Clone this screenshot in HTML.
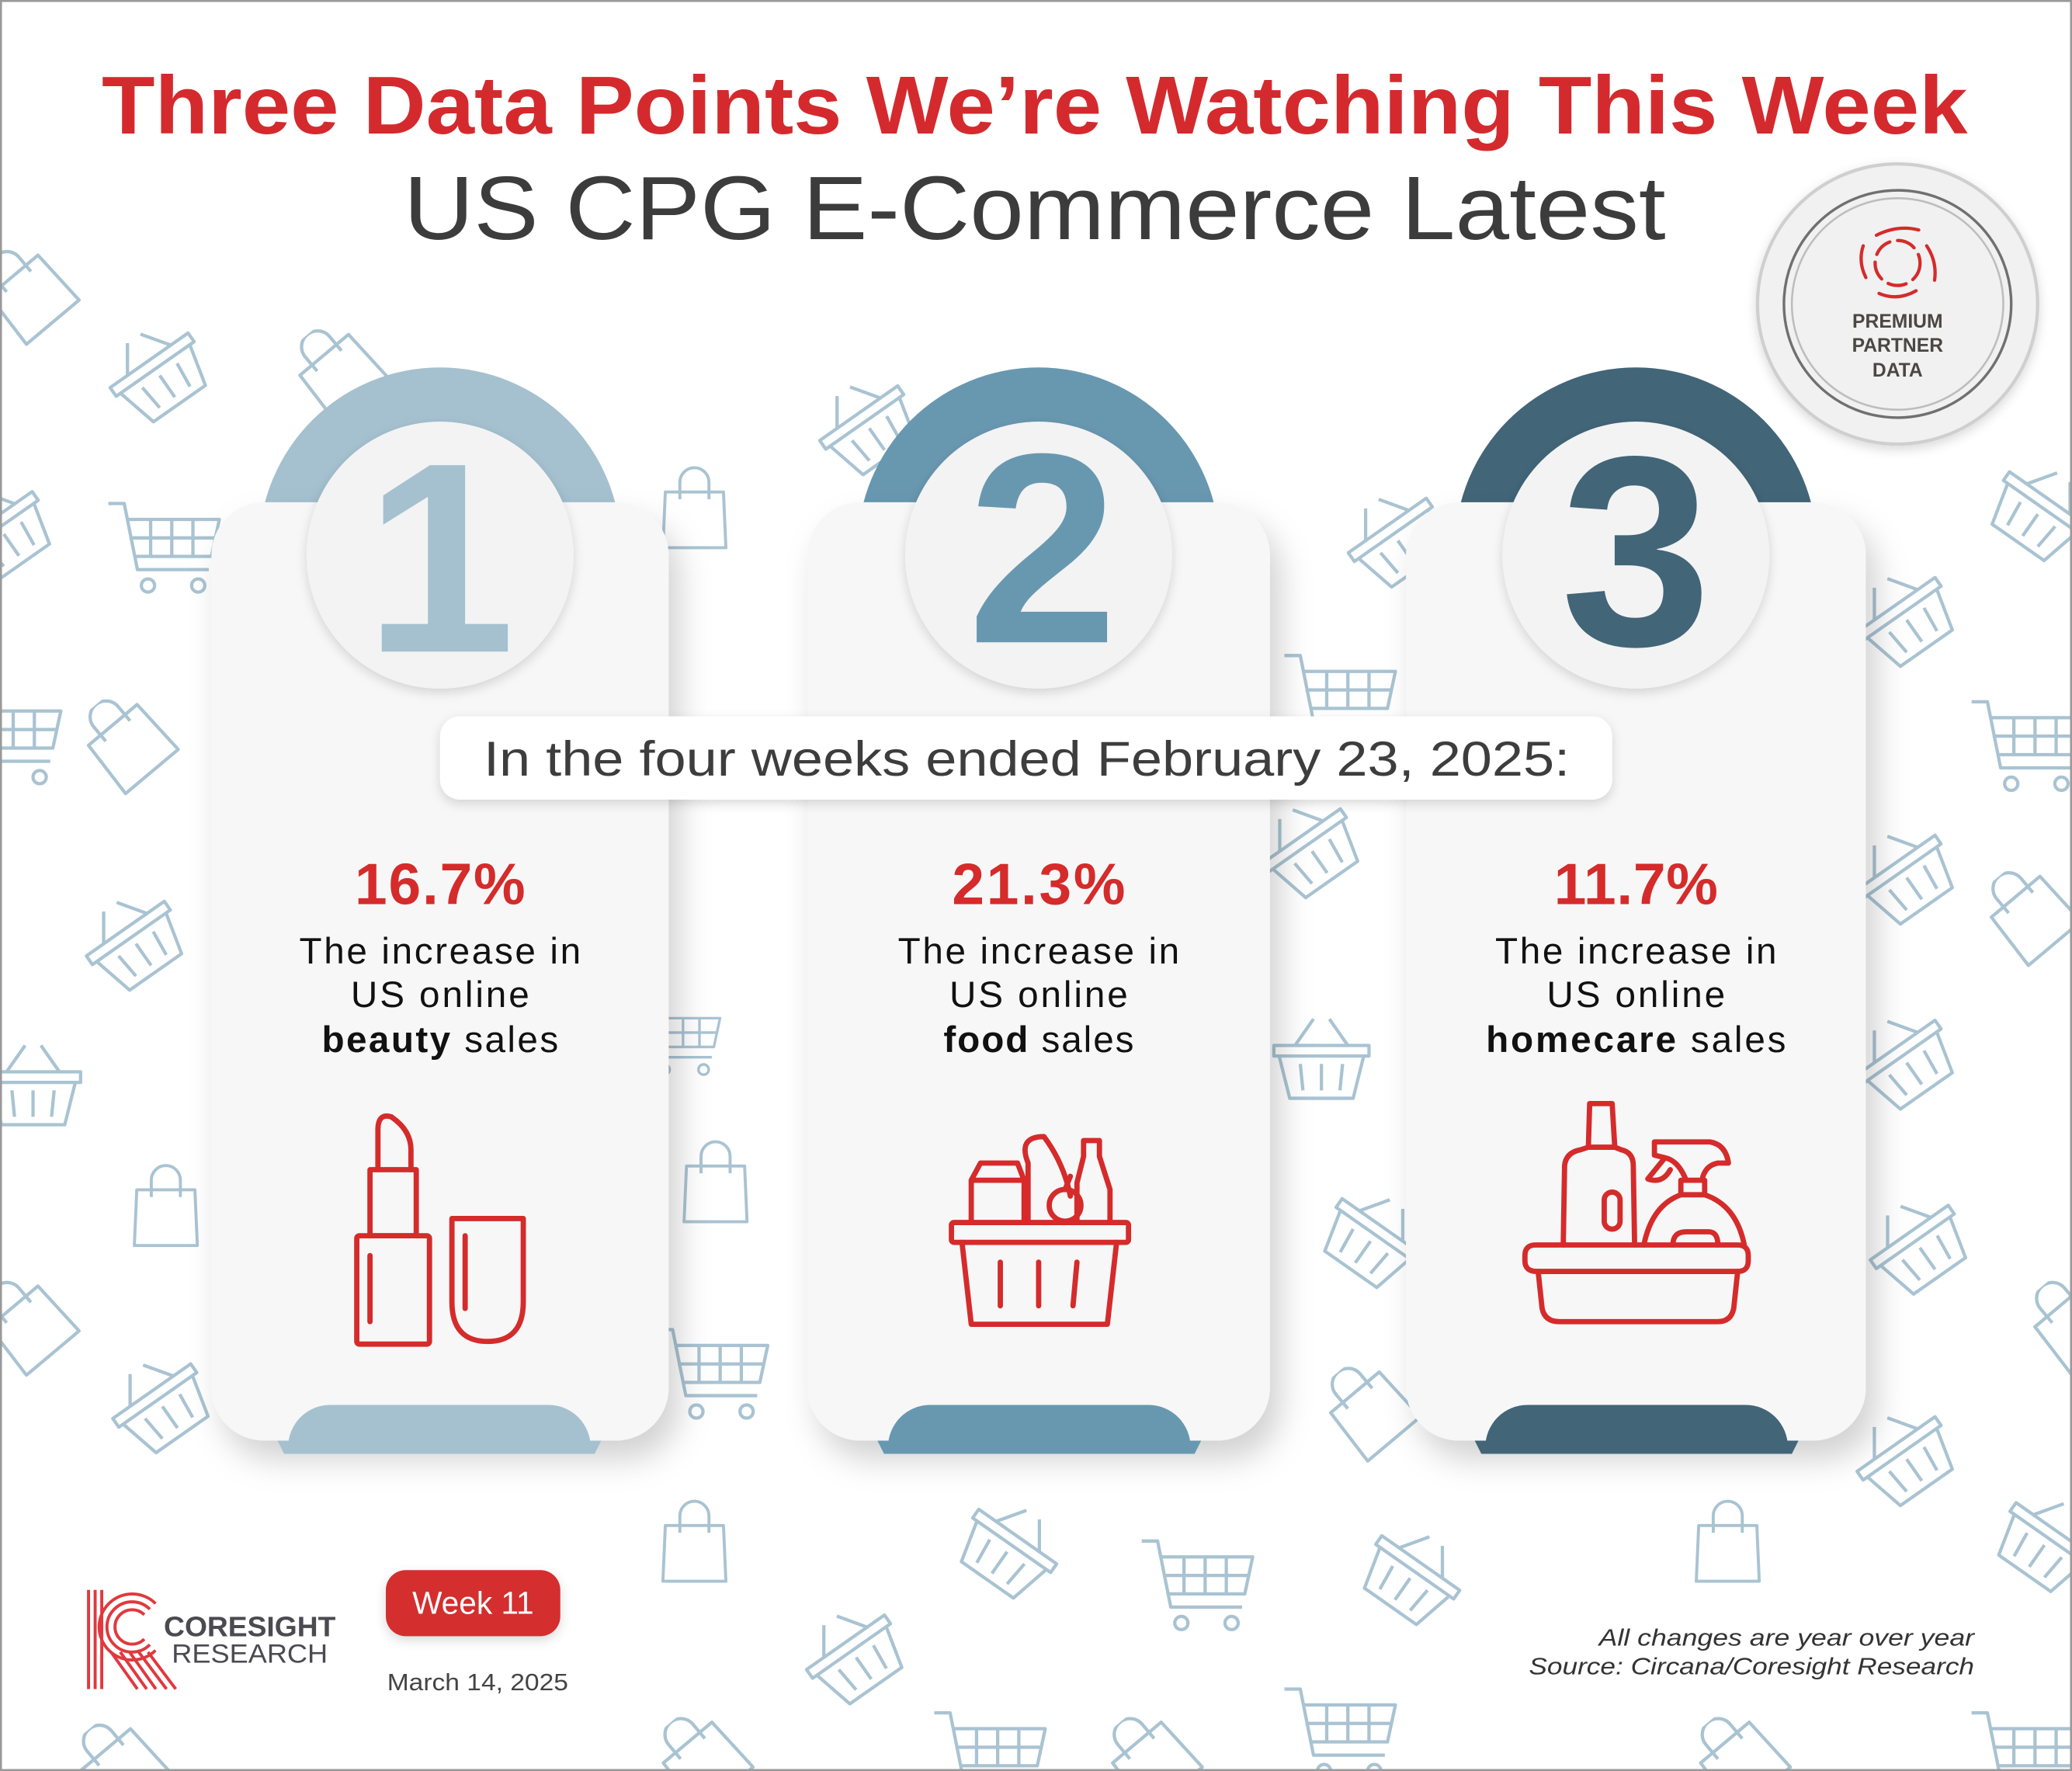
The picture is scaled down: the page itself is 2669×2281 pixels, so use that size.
<!DOCTYPE html>
<html><head><meta charset="utf-8"><style>html,body{margin:0;padding:0;background:#fff}svg{display:block}</style></head>
<body>
<svg width="2669" height="2281" viewBox="0 0 1568 1340" preserveAspectRatio="none" xmlns="http://www.w3.org/2000/svg" font-family="'Liberation Sans', sans-serif">
<defs>
<filter id="sh" x="-20%" y="-20%" width="150%" height="150%"><feDropShadow dx="8" dy="14" stdDeviation="12" flood-color="#000" flood-opacity="0.18"/></filter>
<filter id="sh2" x="-20%" y="-20%" width="140%" height="160%"><feDropShadow dx="0" dy="3" stdDeviation="4" flood-color="#000" flood-opacity="0.15"/></filter>
<symbol id="bag" viewBox="0 0 60 70"><g fill="none" stroke="#a9c3d2" stroke-width="2.5" stroke-linejoin="round"><path d="M6 20 L54 20 L56 66 L4 66 Z"/><path d="M18 26 V12 a12 12 0 0 1 24 0 V26"/></g></symbol>
<symbol id="basket" viewBox="0 0 80 70"><g fill="none" stroke="#a9c3d2" stroke-width="2.5" stroke-linejoin="round"><path d="M4 26 H76 V34 H4 Z"/><path d="M8 34 L16 66 H64 L72 34"/><path d="M24 40 L26 60 M40 40 V60 M56 40 L54 60"/><path d="M20 26 L34 6 M60 26 L46 6"/></g></symbol>
<symbol id="cart" viewBox="0 0 90 80"><g fill="none" stroke="#a9c3d2" stroke-width="2.5" stroke-linejoin="round"><path d="M2 6 H14 L24 56 H78"/><path d="M16 18 H86 L80 46 H22"/><path d="M18 32 H84 M34 18 V46 M50 18 V46 M66 18 V46"/><circle cx="32" cy="68" r="5"/><circle cx="70" cy="68" r="5"/></g></symbol>
<clipPath id="top"><rect x="0" y="0" width="1568" height="382"/></clipPath>
<clipPath id="bot"><rect x="0" y="1040" width="1568" height="60"/></clipPath>
</defs>
<rect x="0" y="0" width="1568" height="1340" fill="#fff"/>
<g>
<use href="#bag" x="-10" y="185" width="60" height="70" transform="rotate(-40 20 220)"/>
<use href="#bag" x="225" y="245" width="60" height="70" transform="rotate(-40 255 280)"/>
<use href="#bag" x="498" y="350" width="55" height="72"/>
<use href="#bag" x="65" y="525" width="60" height="70" transform="rotate(-40 95 560)"/>
<use href="#bag" x="98" y="878" width="55" height="72"/>
<use href="#bag" x="514" y="860" width="55" height="72"/>
<use href="#bag" x="-10" y="965" width="60" height="70" transform="rotate(-40 20 1000)"/>
<use href="#bag" x="498" y="1132" width="55" height="72"/>
<use href="#bag" x="1280" y="1132" width="55" height="72"/>
<use href="#bag" x="1505" y="655" width="60" height="70" transform="rotate(-40 1535 690)"/>
<use href="#bag" x="1005" y="1030" width="60" height="70" transform="rotate(-40 1035 1065)"/>
<use href="#bag" x="1538" y="965" width="60" height="70" transform="rotate(-40 1568 1000)"/>
<use href="#bag" x="60" y="1300" width="60" height="70" transform="rotate(-40 90 1335)"/>
<use href="#bag" x="500" y="1295" width="60" height="70" transform="rotate(-40 530 1330)"/>
<use href="#bag" x="840" y="1295" width="60" height="70" transform="rotate(-40 870 1330)"/>
<use href="#bag" x="1285" y="1295" width="60" height="70" transform="rotate(-40 1315 1330)"/>
<use href="#basket" x="78" y="245" width="80" height="70" transform="rotate(-35 118 280)"/>
<use href="#basket" x="615" y="285" width="80" height="70" transform="rotate(-35 655 320)"/>
<use href="#basket" x="1015" y="370" width="80" height="70" transform="rotate(-35 1055 405)"/>
<use href="#basket" x="1400" y="430" width="80" height="70" transform="rotate(-35 1440 465)"/>
<use href="#basket" x="60" y="675" width="80" height="70" transform="rotate(-35 100 710)"/>
<use href="#basket" x="950" y="605" width="80" height="70" transform="rotate(-35 990 640)"/>
<use href="#basket" x="1400" y="625" width="80" height="70" transform="rotate(-35 1440 660)"/>
<use href="#basket" x="1400" y="765" width="80" height="70" transform="rotate(-35 1440 800)"/>
<use href="#basket" x="960" y="765" width="80" height="70"/>
<use href="#basket" x="-15" y="785" width="80" height="70"/>
<use href="#basket" x="80" y="1025" width="80" height="70" transform="rotate(-35 120 1060)"/>
<use href="#basket" x="725" y="1135" width="80" height="70" transform="rotate(35 765 1170)"/>
<use href="#basket" x="1030" y="1155" width="80" height="70" transform="rotate(35 1070 1190)"/>
<use href="#basket" x="1400" y="1065" width="80" height="70" transform="rotate(-35 1440 1100)"/>
<use href="#basket" x="1510" y="1130" width="80" height="70" transform="rotate(35 1550 1165)"/>
<use href="#basket" x="605" y="1215" width="80" height="70" transform="rotate(-35 645 1250)"/>
<use href="#basket" x="1000" y="900" width="80" height="70" transform="rotate(35 1040 935)"/>
<use href="#basket" x="1410" y="905" width="80" height="70" transform="rotate(-35 1450 940)"/>
<use href="#basket" x="1505" y="350" width="80" height="70" transform="rotate(35 1545 385)"/>
<use href="#basket" x="-40" y="365" width="80" height="70" transform="rotate(-35 0 400)"/>
<use href="#cart" x="80" y="375" width="90" height="80"/>
<use href="#cart" x="970" y="490" width="90" height="80"/>
<use href="#cart" x="1490" y="525" width="90" height="80"/>
<use href="#cart" x="495" y="1000" width="90" height="80"/>
<use href="#cart" x="862" y="1160" width="90" height="80"/>
<use href="#cart" x="970" y="1272" width="90" height="80"/>
<use href="#cart" x="1490" y="1290" width="90" height="80"/>
<use href="#cart" x="705" y="1290" width="90" height="80"/>
<use href="#cart" x="478" y="755" width="70" height="65"/>
<use href="#cart" x="-40" y="520" width="90" height="80"/>
</g>
<g>
<g>
<circle cx="333" cy="415" r="137" fill="#a5c1cf" clip-path="url(#top)"/>
<rect x="160" y="380" width="346" height="710" rx="40" fill="#f7f7f7" filter="url(#sh)"/>
<circle cx="333" cy="420" r="101" fill="#f3f3f3" filter="url(#sh2)"/>
<text x="333" y="493" font-size="205" font-weight="bold" fill="#a5c1cf" text-anchor="middle">1</text>
<g clip-path="url(#bot)"><rect x="218" y="1063" width="229" height="80" rx="32" fill="#a5c1cf"/></g>
<path d="M210 1090 H455 L450 1100 H215 Z" fill="#a5c1cf"/>
</g>
<g>
<circle cx="786" cy="415" r="137" fill="#6898b0" clip-path="url(#top)"/>
<rect x="611" y="380" width="350" height="710" rx="40" fill="#f7f7f7" filter="url(#sh)"/>
<circle cx="786" cy="420" r="101" fill="#f3f3f3" filter="url(#sh2)"/>
<text x="789" y="486" font-size="205" font-weight="bold" fill="#6898b0" text-anchor="middle">2</text>
<g clip-path="url(#bot)"><rect x="672" y="1063" width="229" height="80" rx="32" fill="#6898b0"/></g>
<path d="M664 1090 H909 L904 1100 H669 Z" fill="#6898b0"/>
</g>
<g>
<circle cx="1238" cy="415" r="137" fill="#426578" clip-path="url(#top)"/>
<rect x="1064" y="380" width="348" height="710" rx="40" fill="#f7f7f7" filter="url(#sh)"/>
<circle cx="1238" cy="420" r="101" fill="#f3f3f3" filter="url(#sh2)"/>
<text x="1238" y="488" font-size="205" font-weight="bold" fill="#426578" text-anchor="middle">3</text>
<g clip-path="url(#bot)"><rect x="1124" y="1063" width="229" height="80" rx="32" fill="#426578"/></g>
<path d="M1116 1090 H1361 L1356 1100 H1121 Z" fill="#426578"/>
</g>
</g>
<text x="783" y="101" font-size="62" font-weight="bold" fill="#d42a2e" text-anchor="middle" textLength="1412" lengthAdjust="spacingAndGlyphs">Three Data Points We’re Watching This Week</text>
<text x="783" y="181" font-size="68" fill="#3c3c3c" text-anchor="middle" textLength="955" lengthAdjust="spacingAndGlyphs">US CPG E-Commerce Latest</text>
<circle cx="1436" cy="230" r="106" fill="#f1f1f1" stroke="#cfcfcf" stroke-width="2.5" filter="url(#sh2)"/>
<circle cx="1436" cy="230" r="86" fill="none" stroke="#707070" stroke-width="2"/>
<circle cx="1436" cy="230" r="80" fill="none" stroke="#bdbdbd" stroke-width="1.5"/>
<g fill="none" stroke="#d52b2b" stroke-width="2.5" stroke-linecap="round">
<circle cx="1436" cy="199" r="17" stroke-dasharray="14 6"/>
<path d="M1420 178 Q1436 170 1452 174 M1458 186 Q1466 198 1464 212 M1450 220 Q1436 228 1422 222 M1412 210 Q1406 198 1410 186"/>
</g>
<text x="1436" y="248" font-size="14.5" font-weight="bold" fill="#4a4744" text-anchor="middle">PREMIUM</text>
<text x="1436" y="266" font-size="14.5" font-weight="bold" fill="#4a4744" text-anchor="middle">PARTNER</text>
<text x="1436" y="285" font-size="14.5" font-weight="bold" fill="#4a4744" text-anchor="middle">DATA</text>
<rect x="333" y="542" width="887" height="63" rx="15" fill="#fff" filter="url(#sh2)"/>
<text x="777" y="587" font-size="37" fill="#3d3d3d" text-anchor="middle" textLength="822" lengthAdjust="spacingAndGlyphs">In the four weeks ended February 23, 2025:</text>
<g text-anchor="middle" fill="#111" lengthAdjust="spacingAndGlyphs">
<text x="333" y="684" font-size="44" font-weight="bold" fill="#d52b2b" textLength="129">16.7%</text>
<text x="333" y="729" font-size="28" textLength="213">The increase in</text>
<text x="333" y="762" font-size="28" textLength="135">US online</text>
<text x="333" y="796" font-size="28" textLength="179"><tspan font-weight="bold">beauty</tspan> sales</text>
<text x="786" y="684" font-size="44" font-weight="bold" fill="#d52b2b" textLength="131">21.3%</text>
<text x="786" y="729" font-size="28" textLength="213">The increase in</text>
<text x="786" y="762" font-size="28" textLength="135">US online</text>
<text x="786" y="796" font-size="28" textLength="144"><tspan font-weight="bold">food</tspan> sales</text>
<text x="1238" y="684" font-size="44" font-weight="bold" fill="#d52b2b" textLength="124">11.7%</text>
<text x="1238" y="729" font-size="28" textLength="213">The increase in</text>
<text x="1238" y="762" font-size="28" textLength="135">US online</text>
<text x="1238" y="796" font-size="28" textLength="227"><tspan font-weight="bold">homecare</tspan> sales</text>
</g>
<g fill="none" stroke="#d52b2b" stroke-width="4" stroke-linejoin="round" stroke-linecap="round">
<rect x="270" y="935" width="55" height="82" rx="2"/>
<path d="M280 1000 V950"/>
<rect x="280" y="885" width="35" height="50"/>
<path d="M286 885 V855 Q286 842 296 845 Q311 855 311 870 V885"/>
<path d="M342 922 H396 V985 Q396 1015 369 1015 Q342 1015 342 985 Z"/>
<path d="M352 935 V990"/>
<rect x="720" y="925" width="134" height="15" rx="2"/>
<path d="M728 940 L735 1002 H838 L845 940"/>
<path d="M757 955 V988 M786 955 V988 M815 955 L812 988"/>
<path d="M735 925 V893 H775 V925 M735 893 L742 880 H770 L775 893"/>
<path d="M778 925 V880 Q770 860 790 860 Q805 880 810 905"/>
<circle cx="806" cy="912" r="12"/>
<path d="M806 900 L810 890"/>
<path d="M820 863 H832 V875 L840 900 V925 M820 863 V875 L815 895 V925"/>
<path d="M1163 962 H1315 Q1323 962 1323 954 V950 Q1323 942 1315 942 H1162 Q1154 942 1154 950 V954 Q1154 962 1163 962 Z"/>
<path d="M1164 962 L1167 990 Q1169 1000 1180 1000 H1300 Q1310 1000 1312 990 L1315 962"/>
<path d="M1183 942 L1184 882 Q1185 872 1196 870 L1202 868 L1203 835 H1220 L1222 868 L1227 870 Q1236 872 1236 882 L1237 942"/>
<path d="M1202 868 H1222"/>
<rect x="1214" y="902" width="12" height="28" rx="6"/>
<path d="M1244 942 Q1250 912 1272 904 H1290 Q1314 912 1320 942"/>
<path d="M1272 904 V893 H1290 V904 M1276 893 Q1270 878 1260 876 L1252 874 V864 H1294 Q1306 866 1308 880 H1300 Q1290 882 1288 893"/>
<path d="M1260 876 L1247 892 Q1258 896 1264 885"/>
<path d="M1266 942 Q1266 932 1276 932 H1293 Q1300 932 1300 942"/>
</g>
<g fill="none" stroke="#e0393e" stroke-width="2.3">
<path d="M67 1203 V1278 M72 1203 V1278 M77 1203 V1278"/>
<path d="M117.7 1213.3 A25 25 0 1 0 117.7 1248.7"/>
<path d="M113.4 1217.6 A19 19 0 1 0 113.4 1244.4"/>
<path d="M109.2 1221.8 A13 13 0 1 0 109.2 1240.2"/>
<path d="M84 1250 L104 1278 M91 1250 L111 1278 M98 1250 L118 1278 M105 1250 L126 1278 M112 1250 L133 1278"/>
</g>
<text x="124" y="1238" font-size="21" font-weight="bold" fill="#4a4a50" textLength="130" lengthAdjust="spacingAndGlyphs">CORESIGHT</text>
<text x="130" y="1258" font-size="20" fill="#4a4a50" textLength="118" lengthAdjust="spacingAndGlyphs">RESEARCH</text>
<rect x="292" y="1188" width="132" height="50" rx="15" fill="#d42f2f" filter="url(#sh2)"/>
<text x="358" y="1221" font-size="24" fill="#fff" text-anchor="middle" textLength="92" lengthAdjust="spacingAndGlyphs">Week 11</text>
<text x="293" y="1279" font-size="18" fill="#444" textLength="137" lengthAdjust="spacingAndGlyphs">March 14, 2025</text>
<text x="1494" y="1245" font-size="18" font-style="italic" fill="#333" text-anchor="end" textLength="284" lengthAdjust="spacingAndGlyphs">All changes are year over year</text>
<text x="1494" y="1267" font-size="18" font-style="italic" fill="#333" text-anchor="end" textLength="337" lengthAdjust="spacingAndGlyphs">Source: Circana/Coresight Research</text>
<rect x="0.75" y="0.75" width="1566.5" height="1338.5" fill="none" stroke="#9a9a9a" stroke-width="1.5"/>
</svg>
</body></html>
